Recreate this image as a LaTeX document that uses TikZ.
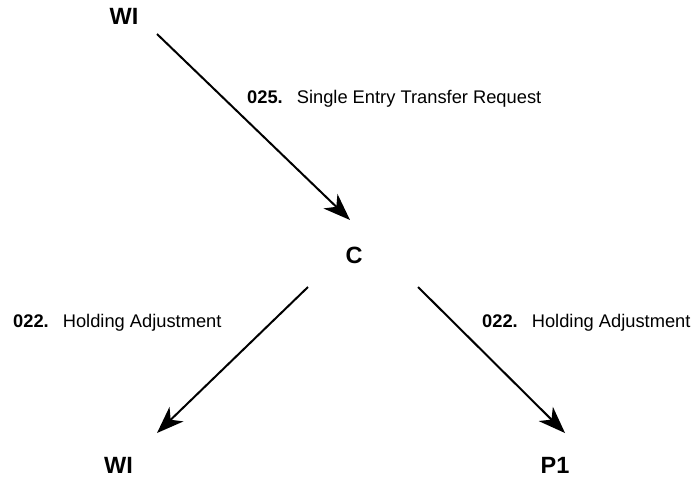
\documentclass[tikz,border=0pt]{standalone}
\usepackage{fontspec}
\setmainfont{Liberation Sans}
\usetikzlibrary{%
  arrows.meta,%
  positioning,%
}

\begin{document}
\begin{tikzpicture}[x=1pt,y=-1pt,
    party/.style={inner sep=0pt,anchor=base,font=\bfseries\fontsize{23.5}{24}\selectfont},
    flowlabel/.style={inner sep=0pt,anchor=base west,font=\fontsize{18.3}{18}\selectfont},
    flow/.style={line width=2pt,-{Stealth[length=27pt,width=20pt,inset=8pt]}}]
        \useasboundingbox (0,0) rectangle (700,477);
        \node[party] (wiTop) at (124,24) {WI};
        \node[party] (c) at (354,263) {C};
        \node[party] (wiBot) at (118.5,473) {WI};
        \node[party] (pOne) at (555,473) {P1};
        \node[flowlabel] (msgA) at (247,103) {\textbf{025.}\hspace{14pt}Single Entry Transfer Request};
        \node[flowlabel] (msgB) at (13,327) {\textbf{022.}\hspace{14pt}Holding Adjustment};
        \node[flowlabel] (msgC) at (482,327) {\textbf{022.}\hspace{14pt}Holding Adjustment};
        \draw[flow] ([shift={(33,10)}]wiTop.base) -- ([shift={(-4,-43)}]c.base);
        \draw[flow] ([shift={(-46,24)}]c.base) -- ([shift={(38.5,-40)}]wiBot.base);
        \draw[flow] ([shift={(64,24)}]c.base) -- ([shift={(10,-40)}]pOne.base);
    \end{tikzpicture}
\end{document}
